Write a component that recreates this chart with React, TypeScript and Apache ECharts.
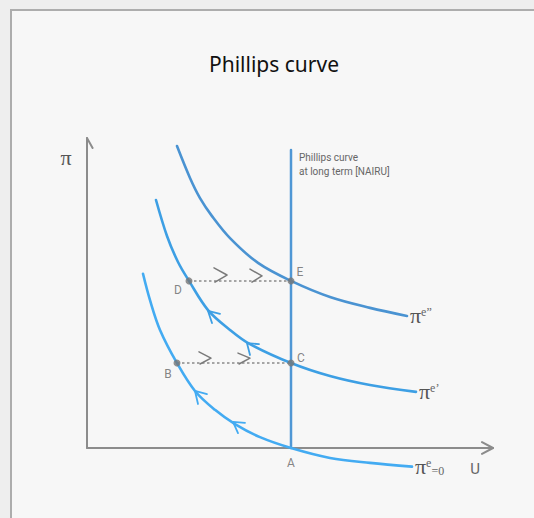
import React, { useEffect, useRef } from "react";
import * as echarts from "echarts";

// Short-run Phillips curves (U, π)
const curveE0: number[][] = [
  [1.4, 5.62], [1.575, 4.77], [1.825, 3.81], [2.25, 2.74], [2.7, 1.84], [3.2, 1.23],
  [3.7, 0.77], [4.325, 0.35], [5.1, 0], [6.075, -0.32], [7.075, -0.48], [8.125, -0.6],
];
const curveE1: number[][] = [
  [1.725, 8.0], [2.0, 6.84], [2.275, 6.0], [2.55, 5.39], [3.025, 4.45], [3.575, 3.81],
  [4.075, 3.35], [5.1, 2.74], [6.075, 2.32], [7.075, 2.03], [8.225, 1.81],
];
const curveE2: number[][] = [
  [2.25, 9.74], [2.575, 8.71], [2.825, 8.06], [3.125, 7.48], [3.575, 6.77], [4.275, 5.97],
  [5.1, 5.39], [6.075, 4.87], [7.075, 4.52], [8.0, 4.26],
];
const curveSuperscripts = ["e", "e\u2019", "e\u201D"];
const curveSubscripts = ["=0", "", ""];

// Long-run Phillips curve (NAIRU)
const longRun: number[][] = [[5.1, 0], [5.1, 9.61]];

// Points
const pointNames = ["A", "B", "C", "D", "E"];
const pointValues: number[][] = [[5.1, 0], [2.25, 2.74], [5.1, 2.74], [2.55, 5.39], [5.1, 5.39]];

// Horizontal moves
const moveBC: number[][] = [[2.25, 2.74], [5.1, 2.74]];
const moveDE: number[][] = [[2.55, 5.39], [5.1, 5.39]];
const chevrons: number[][][] = [
  [[3.175, 5.81], [3.5, 5.58], [3.2, 5.35]],
  [[4.075, 5.77], [4.375, 5.55], [4.125, 5.35]],
  [[2.8, 3.1], [3.1, 2.9], [2.825, 2.71]],
  [[3.775, 3.06], [4.075, 2.9], [3.8, 2.71]],
];
// Direction arrowheads on the curves
const curveArrowOwner = [0, 0, 1, 1];
const curveArrows: number[][][] = [
  [[3.0, 1.74], [2.7, 1.84], [2.775, 1.42]],
  [[3.95, 0.81], [3.65, 0.84], [3.775, 0.48]],
  [[3.325, 4.33], [3.025, 4.42], [3.125, 4.03]],
  [[4.3, 3.35], [4.0, 3.38], [4.075, 3.0]],
];

// Axes
const axisX: number[][] = [[0, 0], [10.15, 0]];
const axisY: number[][] = [[0, 0], [0, 10]];
const arrowX: number[][] = [[9.875, 0.19], [10.15, 0], [9.875, -0.19]];
const arrowY: number[][] = [[-0.14, 9.68], [0, 10], [0.14, 9.68]];

const curveColors = ["#43abf2", "#3d9fe4", "#4a93d2"];
const longRunColor = "#4f97d5";
const axisColor = "#8c8c8c";
const grayText = "#666666";
const labelOffsets: Record<string, number[]> = {
  A: [0, 15], B: [-9, 11], C: [10, -5], D: [-11, 9], E: [9, -9],
};

function line(data: number[][], color: string, width: number, extra: any = {}) {
  return {
    type: "line",
    data,
    showSymbol: false,
    symbol: "none",
    clip: false,
    silent: true,
    lineStyle: { color, width, cap: "round", join: "round" },
    ...extra,
  };
}

export default function App() {
  const ref = useRef<HTMLDivElement>(null);
  useEffect(() => {
    const chart = echarts.init(ref.current!, null, { renderer: "svg" });
    const curves = [curveE0, curveE1, curveE2];
    const series: any[] = [];
    series.push(line(axisX, axisColor, 2, { z: 3 }));
    series.push(line(axisY, axisColor, 2, { z: 3 }));
    series.push(line(arrowX, axisColor, 2, { z: 3 }));
    series.push(line(arrowY, axisColor, 2, { z: 3 }));
    const dotted = { color: "#8a8a8a", width: 1.5, type: [2.5, 2.5] };
    series.push(line(moveBC, "#8a8a8a", 1.5, { z: 4, lineStyle: dotted }));
    series.push(line(moveDE, "#8a8a8a", 1.5, { z: 4, lineStyle: dotted }));
    chevrons.forEach((c) => series.push(line(c, "#7a7a7a", 1.5, { z: 4 })));
    series.push(line(longRun, longRunColor, 2.5, { z: 5 }));
    curves.forEach((c, i) => {
      const sub = curveSubscripts[i];
      series.push(
        line(c, curveColors[i], 2.6, {
          z: 6,
          smooth: 0.35,
          endLabel: {
            show: true,
            distance: 3,
            formatter: "{p|\u03C0}{s|" + curveSuperscripts[i] + "}" + (sub ? "{b|" + sub + "}" : ""),
            rich: {
              p: { fontFamily: "Liberation Serif", fontSize: 22, color: "#555", lineHeight: 20 },
              s: { fontFamily: "Liberation Serif", fontSize: 12, color: "#666", verticalAlign: "top", lineHeight: 12 },
              b: { fontFamily: "Liberation Serif", fontSize: 12, color: "#666", verticalAlign: "bottom", lineHeight: 12 },
            },
          },
        })
      );
    });
    curveArrows.forEach((a, i) =>
      series.push(line(a, curveColors[curveArrowOwner[i]], 1.8, { z: 6 }))
    );
    series.push({
      type: "scatter",
      z: 8,
      silent: true,
      clip: false,
      itemStyle: { color: "#777777" },
      label: {
        show: true,
        position: "inside",
        formatter: "{b}",
        color: grayText,
        fontSize: 12,
        fontFamily: "Roboto",
      },
      data: pointNames.map((n, i) => ({
        name: n,
        value: pointValues[i],
        symbolSize: n === "A" ? 0 : 7,
        label: { offset: labelOffsets[n] },
      })),
    });

    chart.setOption({
      animation: false,
      backgroundColor: "#eeeeee",
      grid: { left: 87, top: 138, width: 406, height: 341 },
      xAxis: { type: "value", min: 0, max: 10.15, show: false },
      yAxis: { type: "value", min: -1, max: 10, show: false },
      graphic: [
        {
          type: "rect",
          z: -10,
          silent: true,
          shape: { x: 11, y: 10, width: 700, height: 700 },
          style: { fill: "#f7f7f7", stroke: "#adadad", lineWidth: 2 },
        },
        {
          type: "text",
          x: 274,
          y: 64,
          style: {
            text: "Phillips curve",
            fontSize: 21,
            fontFamily: "Noto Sans",
            fill: "#111111",
            textAlign: "center",
            textVerticalAlign: "middle",
            align: "center",
            verticalAlign: "middle",
          },
        },
        {
          type: "text",
          x: 299,
          y: 150,
          style: {
            text: "Phillips curve\nat long term [NAIRU]",
            fontSize: 10,
            lineHeight: 14,
            fontFamily: "Roboto",
            fill: grayText,
          },
        },
        {
          type: "text",
          x: 66,
          y: 157,
          style: {
            text: "\u03C0",
            fontSize: 22,
            fontFamily: "Liberation Serif",
            fill: "#555",
            textAlign: "center",
            textVerticalAlign: "middle",
            align: "center",
            verticalAlign: "middle",
          },
        },
        {
          type: "text",
          x: 475,
          y: 469,
          style: {
            text: "U",
            fontSize: 15,
            fontFamily: "Roboto",
            fill: grayText,
            textAlign: "center",
            textVerticalAlign: "middle",
            align: "center",
            verticalAlign: "middle",
          },
        },
      ],
      series,
    });
    return () => chart.dispose();
  }, []);
  return (
    <div
      ref={ref}
      style={{ position: "fixed", left: 0, top: 0, width: 534, height: 518 }}
    />
  );
}
